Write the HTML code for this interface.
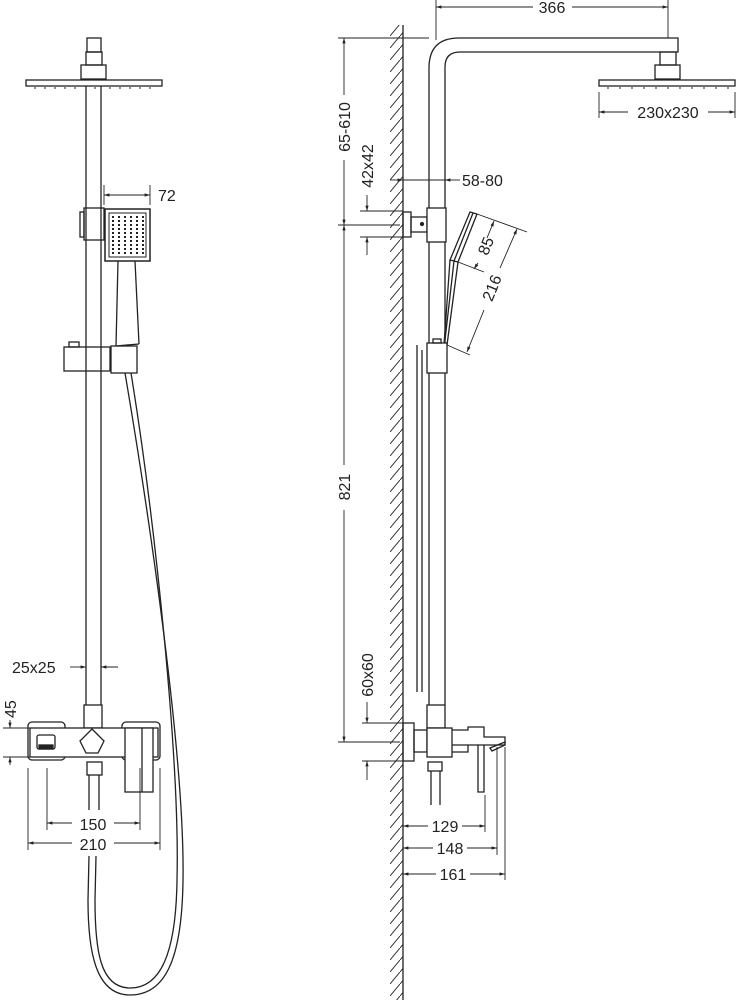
<!DOCTYPE html>
<html><head><meta charset="utf-8"><style>
html,body{margin:0;padding:0;background:#fff}
svg{display:block}
text{font-family:"Liberation Sans",sans-serif;font-size:16px;fill:#222}
</style></head><body>
<svg width="738" height="1000" viewBox="0 0 738 1000" xmlns="http://www.w3.org/2000/svg">
<defs>
<marker id="a" viewBox="0 0 10 10" refX="10" refY="5" markerWidth="8" markerHeight="6" orient="auto-start-reverse"><path d="M0,2 L10,5 L0,8z" fill="#222"/></marker>
<pattern id="h" width="10" height="12" patternUnits="userSpaceOnUse"><path d="M0,12 L10,0" stroke="#333" stroke-width="1"/></pattern>
</defs>
<g fill="none" stroke="#222" stroke-width="1.3">
<!-- LEFT VIEW -->
<rect x="87" y="38" width="14" height="14"/>
<rect x="86" y="52" width="16" height="13"/>
<rect x="81" y="65" width="25" height="14"/>
<rect x="26" y="80" width="136" height="6"/>
<g stroke-width="1">
<path d="M35,87v2M45,87v2M55,87v2M65,87v2M75,87v2M95,87v2M110,87v2M120,87v2M130,87v2M140,87v2M150,87v2"/>
</g>
<line x1="86" y1="86" x2="86" y2="705"/><line x1="101" y1="86" x2="101" y2="705"/>
<rect x="84" y="208" width="20" height="32"/>
<rect x="80" y="212" width="4" height="25"/>
<rect x="105" y="209" width="45" height="52" stroke-width="1.5"/>
<rect x="109" y="213" width="37" height="44" stroke-width="1"/>
<g stroke-width="2" stroke-dasharray="2 2"><path d="M113,216v40M119,216v40M125,216v40M131,216v40M137,216v40M143,216v40"/></g>
<path d="M118,261 L116,346 M135,261 L139,344 M116,346 L139,344"/>
<rect x="64" y="347" width="46" height="24"/>
<rect x="69" y="342" width="10" height="5"/>
<rect x="111" y="346" width="26" height="27"/>
<!-- hose -->
<path d="M125,373 C150,520 185,760 183,880 C182,960 165,995 130,995 C95,995 88,950 88,900 L89,856"/>
<path d="M131,373 C155,520 180,760 177,880 C176,955 160,988 130,988 C100,988 95,950 95,900 L96,856"/>
<rect x="84" y="705" width="18" height="23"/>
<rect x="28" y="722" width="37" height="38" rx="4"/>
<rect x="122" y="722" width="38" height="38" rx="4"/>
<rect x="30" y="728" width="128" height="29" fill="#fff"/>
<rect x="37" y="735" width="18" height="14" rx="2"/>
<rect x="39" y="745" width="14" height="4" fill="#222"/>
<path d="M92,729 L104,741 L98,753 L86,753 L80,741z"/>
<rect x="125" y="728" width="28" height="64" fill="#fff"/>
<line x1="142" y1="728" x2="142" y2="792"/>
<rect x="87" y="762" width="15" height="13"/>
<line x1="89" y1="775" x2="89" y2="810"/><line x1="99" y1="775" x2="99" y2="810"/>
</g>
<g stroke="#222" stroke-width="0.9" fill="none">
<line x1="104" y1="185" x2="104" y2="205"/><line x1="150" y1="185" x2="150" y2="205"/>
<line x1="104" y1="195" x2="150" y2="195" marker-start="url(#a)" marker-end="url(#a)"/>
<line x1="70" y1="667" x2="86" y2="667" marker-end="url(#a)"/>
<line x1="118" y1="667" x2="101" y2="667" marker-end="url(#a)"/>
<line x1="3" y1="728" x2="30" y2="728"/><line x1="3" y1="757" x2="30" y2="757"/>
<line x1="10" y1="720" x2="10" y2="728" marker-end="url(#a)"/>
<line x1="10" y1="765" x2="10" y2="757" marker-end="url(#a)"/>
<line x1="47" y1="768" x2="47" y2="830"/><line x1="140" y1="768" x2="140" y2="830"/>
<line x1="47" y1="823" x2="72" y2="823" marker-start="url(#a)"/><line x1="114" y1="823" x2="140" y2="823" marker-end="url(#a)"/>
<line x1="28" y1="768" x2="28" y2="850"/><line x1="160" y1="768" x2="160" y2="850"/>
<line x1="28" y1="843" x2="72" y2="843" marker-start="url(#a)"/><line x1="114" y1="843" x2="160" y2="843" marker-end="url(#a)"/>
</g>
<text x="158" y="201">72</text>
<text x="12" y="673">25x25</text>
<text x="16" y="718" transform="rotate(-90 16 718)" text-anchor="start">45</text>
<text x="93" y="830" text-anchor="middle">150</text>
<text x="93" y="850" text-anchor="middle">210</text>

<!-- RIGHT VIEW -->
<rect x="390" y="25" width="13" height="975" fill="url(#h)"/>
<g fill="none" stroke="#222" stroke-width="1.3">
<line x1="403" y1="25" x2="403" y2="1000"/>
<path d="M429,705 L429,68 Q429,38 459,38 L678,38 L678,52 L460,52 Q445,52 445,67 L445,705"/>
<rect x="660" y="52" width="16" height="13"/>
<rect x="655" y="65" width="25" height="14"/>
<rect x="599" y="80" width="136" height="6"/>
<g stroke-width="1"><path d="M608,87v2M620,87v2M632,87v2M644,87v2M656,87v2M668,87v2M680,87v2M692,87v2M704,87v2M716,87v2M728,87v2"/></g>
<rect x="403" y="212" width="8" height="25"/>
<rect x="411" y="217" width="16" height="15"/>
<rect x="427" y="208" width="19" height="34" fill="#fff"/>
<circle cx="422" cy="224" r="1.5" fill="#222"/>
<path d="M470,212 L477,214 L458,262 L450,260z"/>
<path d="M473,213 L454,261"/>
<path d="M450,260 L444,345 M458,262 L447,345 M454,261 L445,340"/>
<rect x="427" y="343" width="20" height="30" fill="#fff"/>
<rect x="433" y="339" width="8" height="4"/>
<line x1="417" y1="345" x2="417" y2="692"/><line x1="422" y1="350" x2="422" y2="692"/>
<rect x="427" y="705" width="18" height="23"/>
<rect x="403" y="723" width="11" height="38"/>
<rect x="414" y="730" width="13" height="22"/>
<rect x="427" y="728" width="25" height="29" fill="#fff"/>
<path d="M452,730 L468,730 L468,727 L484,727 L484,737 L505,737 L505,745 L452,745"/>
<path d="M452,752 L468,752 L468,745"/>
<path d="M490,748 L505,742 L505,745 L492,751z"/>
<path d="M478,745 L478,792 L484,792 L484,745"/>
<rect x="428" y="762" width="14" height="9"/>
<line x1="431" y1="771" x2="431" y2="805"/><line x1="440" y1="771" x2="440" y2="805"/>
</g>
<g stroke="#222" stroke-width="0.9" fill="none">
<line x1="436" y1="0" x2="436" y2="40"/><line x1="668" y1="0" x2="668" y2="38"/>
<line x1="436" y1="7" x2="533" y2="7" marker-start="url(#a)"/><line x1="572" y1="7" x2="668" y2="7" marker-end="url(#a)"/>
<line x1="599" y1="92" x2="599" y2="118"/><line x1="735" y1="92" x2="735" y2="118"/>
<line x1="599" y1="112" x2="628" y2="112" marker-start="url(#a)"/><line x1="708" y1="112" x2="735" y2="112" marker-end="url(#a)"/>
<line x1="338" y1="38" x2="429" y2="38"/>
<line x1="338" y1="225" x2="400" y2="225"/>
<line x1="338" y1="742" x2="400" y2="742"/>
<line x1="344" y1="38" x2="344" y2="95" marker-start="url(#a)"/><line x1="344" y1="160" x2="344" y2="225" marker-end="url(#a)"/>
<line x1="344" y1="225" x2="344" y2="465" marker-start="url(#a)"/><line x1="344" y1="510" x2="344" y2="742" marker-end="url(#a)"/>
<line x1="360" y1="211" x2="403" y2="211"/><line x1="360" y1="237" x2="403" y2="237"/>
<line x1="367" y1="195" x2="367" y2="211" marker-end="url(#a)"/><line x1="367" y1="255" x2="367" y2="237" marker-end="url(#a)"/>
<line x1="390" y1="180" x2="403" y2="180" marker-end="url(#a)"/><line x1="460" y1="180" x2="445" y2="180" marker-end="url(#a)"/>
<line x1="403" y1="180" x2="445" y2="180"/>
<line x1="362" y1="723" x2="403" y2="723"/><line x1="362" y1="761" x2="403" y2="761"/>
<line x1="367" y1="702" x2="367" y2="723" marker-end="url(#a)"/><line x1="367" y1="780" x2="367" y2="761" marker-end="url(#a)"/>
<line x1="477" y1="214" x2="527" y2="232"/><line x1="458" y1="262" x2="484" y2="272"/><line x1="447" y1="345" x2="470" y2="355"/>
<line x1="494" y1="221" x2="487" y2="238" marker-start="url(#a)"/><line x1="478" y1="263" x2="474" y2="269" marker-end="url(#a)"/>
<line x1="517" y1="229" x2="500" y2="268" marker-start="url(#a)"/><line x1="484" y1="310" x2="467" y2="352" marker-end="url(#a)"/>
<line x1="485" y1="795" x2="485" y2="832"/><line x1="497" y1="747" x2="497" y2="855"/><line x1="505" y1="747" x2="505" y2="880"/>
<line x1="403" y1="826" x2="428" y2="826" marker-start="url(#a)"/><line x1="462" y1="826" x2="485" y2="826" marker-end="url(#a)"/>
<line x1="403" y1="848" x2="433" y2="848" marker-start="url(#a)"/><line x1="467" y1="848" x2="497" y2="848" marker-end="url(#a)"/>
<line x1="403" y1="874" x2="436" y2="874" marker-start="url(#a)"/><line x1="470" y1="874" x2="505" y2="874" marker-end="url(#a)"/>
</g>
<text x="552" y="13" text-anchor="middle">366</text>
<text x="668" y="118" text-anchor="middle">230x230</text>
<text x="462" y="186">58-80</text>
<text x="350" y="127" transform="rotate(-90 350 127)" text-anchor="middle">65-610</text>
<text x="373" y="166" transform="rotate(-90 373 166)" text-anchor="middle">42x42</text>
<text x="350" y="487" transform="rotate(-90 350 487)" text-anchor="middle">821</text>
<text x="373" y="675" transform="rotate(-90 373 675)" text-anchor="middle">60x60</text>
<text x="491" y="248" transform="rotate(-68 491 248)" text-anchor="middle">85</text>
<text x="497" y="290" transform="rotate(-68 497 290)" text-anchor="middle">216</text>
<text x="445" y="832" text-anchor="middle">129</text>
<text x="450" y="854" text-anchor="middle">148</text>
<text x="453" y="880" text-anchor="middle">161</text>
</svg>
</body></html>
